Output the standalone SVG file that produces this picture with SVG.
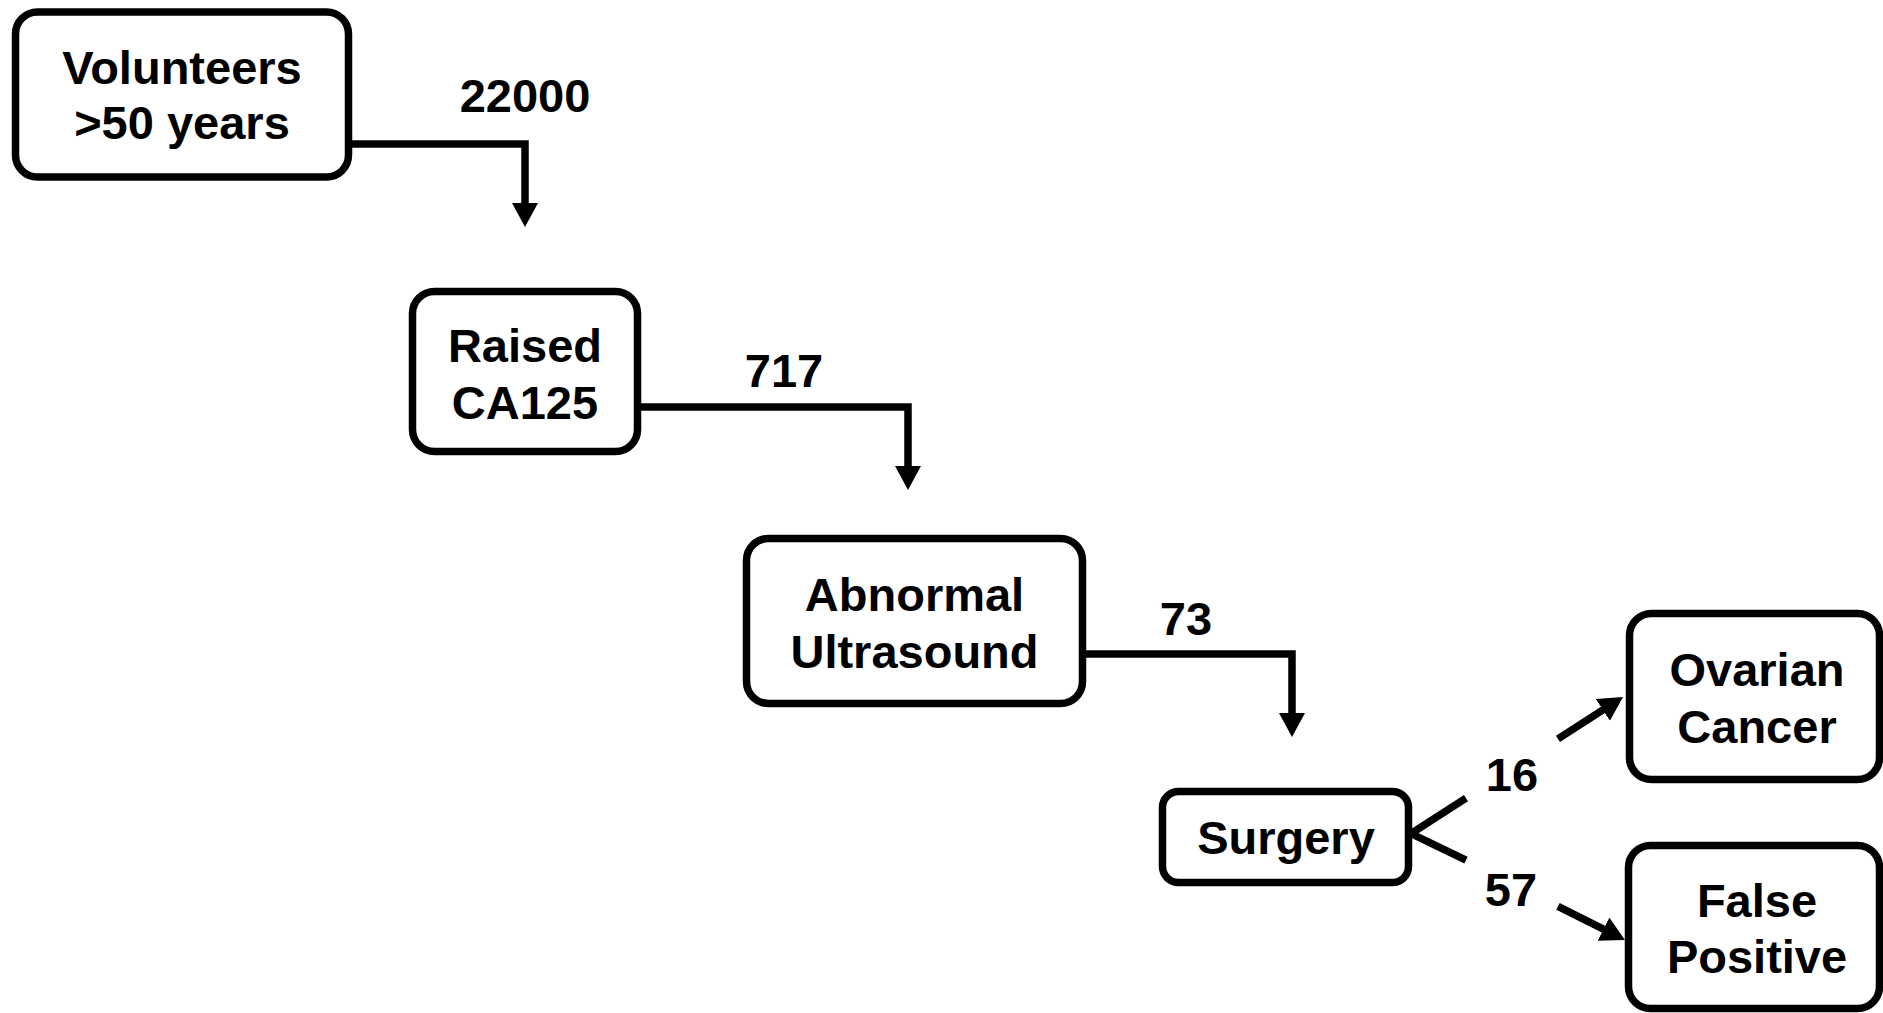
<svg xmlns="http://www.w3.org/2000/svg" width="1883" height="1013" viewBox="0 0 1883 1013">
<style>
.box{fill:#fff;stroke:#000;stroke-width:7.5}
.t{font-family:"Liberation Sans",Arial,sans-serif;font-weight:bold;font-size:47px;fill:#000;text-anchor:middle}
.c{fill:none;stroke:#000;stroke-width:7.5}
</style>
<defs>
<marker id="ah" markerUnits="userSpaceOnUse" markerWidth="28" markerHeight="28" refX="1" refY="13" orient="auto">
<path d="M0,0 L24,13 L0,26 z" fill="#000"/>
</marker>
</defs>
<rect width="1883" height="1013" fill="#fff"/>
<g id="connectors">
<path class="c" d="M349,144 H525 V204" marker-end="url(#ah)"/>
<path class="c" d="M638,407 H908 V467" marker-end="url(#ah)"/>
<path class="c" d="M1083,654 H1292 V714" marker-end="url(#ah)"/>
<path class="c" d="M1466,798.2 L1411,833.6 L1466,860.1"/>
<path class="c" d="M1558,738.9 L1603.7,709.4" marker-end="url(#ah)"/>
<path class="c" d="M1558,906.3 L1604.4,929.6" marker-end="url(#ah)"/>
<text class="t" x="525" y="112">22000</text>
<text class="t" x="784" y="387">717</text>
<text class="t" x="1186" y="635">73</text>
<text class="t" x="1512" y="791">16</text>
<text class="t" x="1511" y="906">57</text>
</g>
<g id="volunteers">
<rect class="box" x="15.5" y="12" width="333" height="165" rx="22"/>
<text class="t" x="182" y="84">Volunteers</text>
<text class="t" x="182" y="139">&gt;50 years</text>
</g>
<g id="raised">
<rect class="box" x="412.5" y="291.5" width="225" height="160" rx="22"/>
<text class="t" x="525" y="362">Raised</text>
<text class="t" x="525" y="419">CA125</text>
</g>
<g id="abnormal">
<rect class="box" x="746.5" y="538.5" width="336" height="165" rx="22"/>
<text class="t" x="914.5" y="611">Abnormal</text>
<text class="t" x="914.5" y="668">Ultrasound</text>
</g>
<g id="surgery">
<rect class="box" x="1162.5" y="791.5" width="246" height="91" rx="16"/>
<text class="t" x="1286" y="854">Surgery</text>
</g>
<g id="ovarian">
<rect class="box" x="1629.5" y="613.5" width="250" height="166" rx="22"/>
<text class="t" x="1757" y="686">Ovarian</text>
<text class="t" x="1757" y="743">Cancer</text>
</g>
<g id="falsepositive">
<rect class="box" x="1628.5" y="845.5" width="251" height="163" rx="22"/>
<text class="t" x="1757" y="917">False</text>
<text class="t" x="1757" y="973">Positive</text>
</g>
</svg>
